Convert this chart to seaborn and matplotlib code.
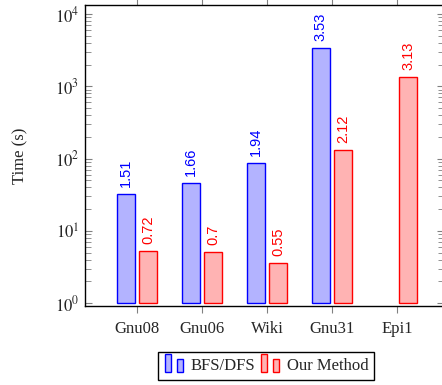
import numpy as np
import pandas as pd
import seaborn as sns
import matplotlib.pyplot as plt
from matplotlib.patches import Rectangle, Patch
from matplotlib.legend_handler import HandlerBase
from matplotlib.ticker import FixedLocator

# Dados (log10 do tempo em segundos)
graphs = ['Gnu08', 'Gnu06', 'Wiki', 'Gnu31', 'Epi1']
bfs_dfs = [1.51, 1.66, 1.94, 3.53, np.nan]
our_method = [0.72, 0.7, 0.55, 2.12, 3.13]
methods = ['BFS/DFS', 'Our Method']

df = pd.DataFrame({
    'graph': graphs * 2,
    'logt': bfs_dfs + our_method,
    'method': [methods[0]] * len(graphs) + [methods[1]] * len(graphs),
})

fill_cols = ['#b3b3ff', '#ffb3b3']
edge_cols = ['#0000ff', '#ff0000']

sns.set_style('ticks')
plt.rcParams['font.family'] = ['Liberation Serif', 'DejaVu Serif']
plt.rcParams['mathtext.fontset'] = 'stix'

fig = plt.figure(figsize=(4.42, 3.85), dpi=100)
ax = fig.add_axes([85 / 442, 1 - 306 / 385, (443.5 - 85) / 442, (306 - 5) / 385])

sns.barplot(data=df, x='graph', y='logt', hue='method', palette=fill_cols,
            width=0.68, gap=0.16, saturation=1, errorbar=None, legend=False, ax=ax)

# Bordas e etiquetas de valor
for i, cont in enumerate(ax.containers):
    for bar, val in zip(cont, [bfs_dfs, our_method][i]):
        bar.set_edgecolor(edge_cols[i])
        bar.set_linewidth(1.0)
        if np.isnan(val):
            continue
        ax.annotate(f'{val:g}', (bar.get_x() + bar.get_width() / 2, bar.get_height()),
                    xytext=(0, 5), textcoords='offset points', rotation=90,
                    ha='center', va='bottom', color=edge_cols[i],
                    family='Liberation Sans', fontsize=10.5)

ax.set_xlim(-0.8, 4 + (443.5 - 397) / 65)
ax.set_ylim(-0.0415, 4.1246)
ax.set_yticks(range(5))
ax.set_yticklabels([rf'$10^{{{k}}}$' for k in range(5)], fontsize=12)
minor = [np.log10(m * 10 ** k) for k in range(4) for m in range(2, 10)]
ax.yaxis.set_minor_locator(FixedLocator(minor))

ax.set_xlabel('')
ax.set_ylabel('Time (s)', fontsize=12, labelpad=19)
ax.tick_params(axis='x', direction='out', length=5, color='gray', top=True,
               labelsize=12, pad=6)
ax.tick_params(axis='y', which='both', direction='in', color='gray', right=True,
               pad=4)
ax.tick_params(axis='y', which='major', length=5)
ax.tick_params(axis='y', which='minor', length=4)
for s in ax.spines.values():
    s.set_visible(True)
    s.set_linewidth(1.0)
    s.set_color('black')


# Ícone da legenda com duas barras
class DuasBarras(HandlerBase):
    def create_artists(self, legend, orig_handle, xdescent, ydescent, width, height, fontsize, trans):
        fc = orig_handle.get_facecolor()
        ec = orig_handle.get_edgecolor()
        w = width * 0.28
        r1 = Rectangle((-xdescent + width * 0.05, -ydescent - 0.2 * height), w, 1.55 * height,
                       facecolor=fc, edgecolor=ec, lw=1.0, transform=trans)
        r2 = Rectangle((-xdescent + width * 0.6, -ydescent - 0.2 * height), w, 1.15 * height,
                       facecolor=fc, edgecolor=ec, lw=1.0, transform=trans)
        return [r1, r2]


handles = [Patch(facecolor=fill_cols[i], edgecolor=edge_cols[i]) for i in range(2)]
leg = fig.legend(handles, methods, loc='upper center', bbox_to_anchor=(266 / 442, 1 - 352 / 385),
                 ncol=2, fontsize=12, frameon=True, fancybox=False, handlelength=1.3,
                 handleheight=0.7, handletextpad=0.3, columnspacing=0.3, borderpad=0.35,
                 borderaxespad=0, handler_map={Patch: DuasBarras()})
leg.get_frame().set_edgecolor('black')
leg.get_frame().set_linewidth(1.0)
leg.get_frame().set_alpha(1)

fig.savefig('out.png', dpi=100)
